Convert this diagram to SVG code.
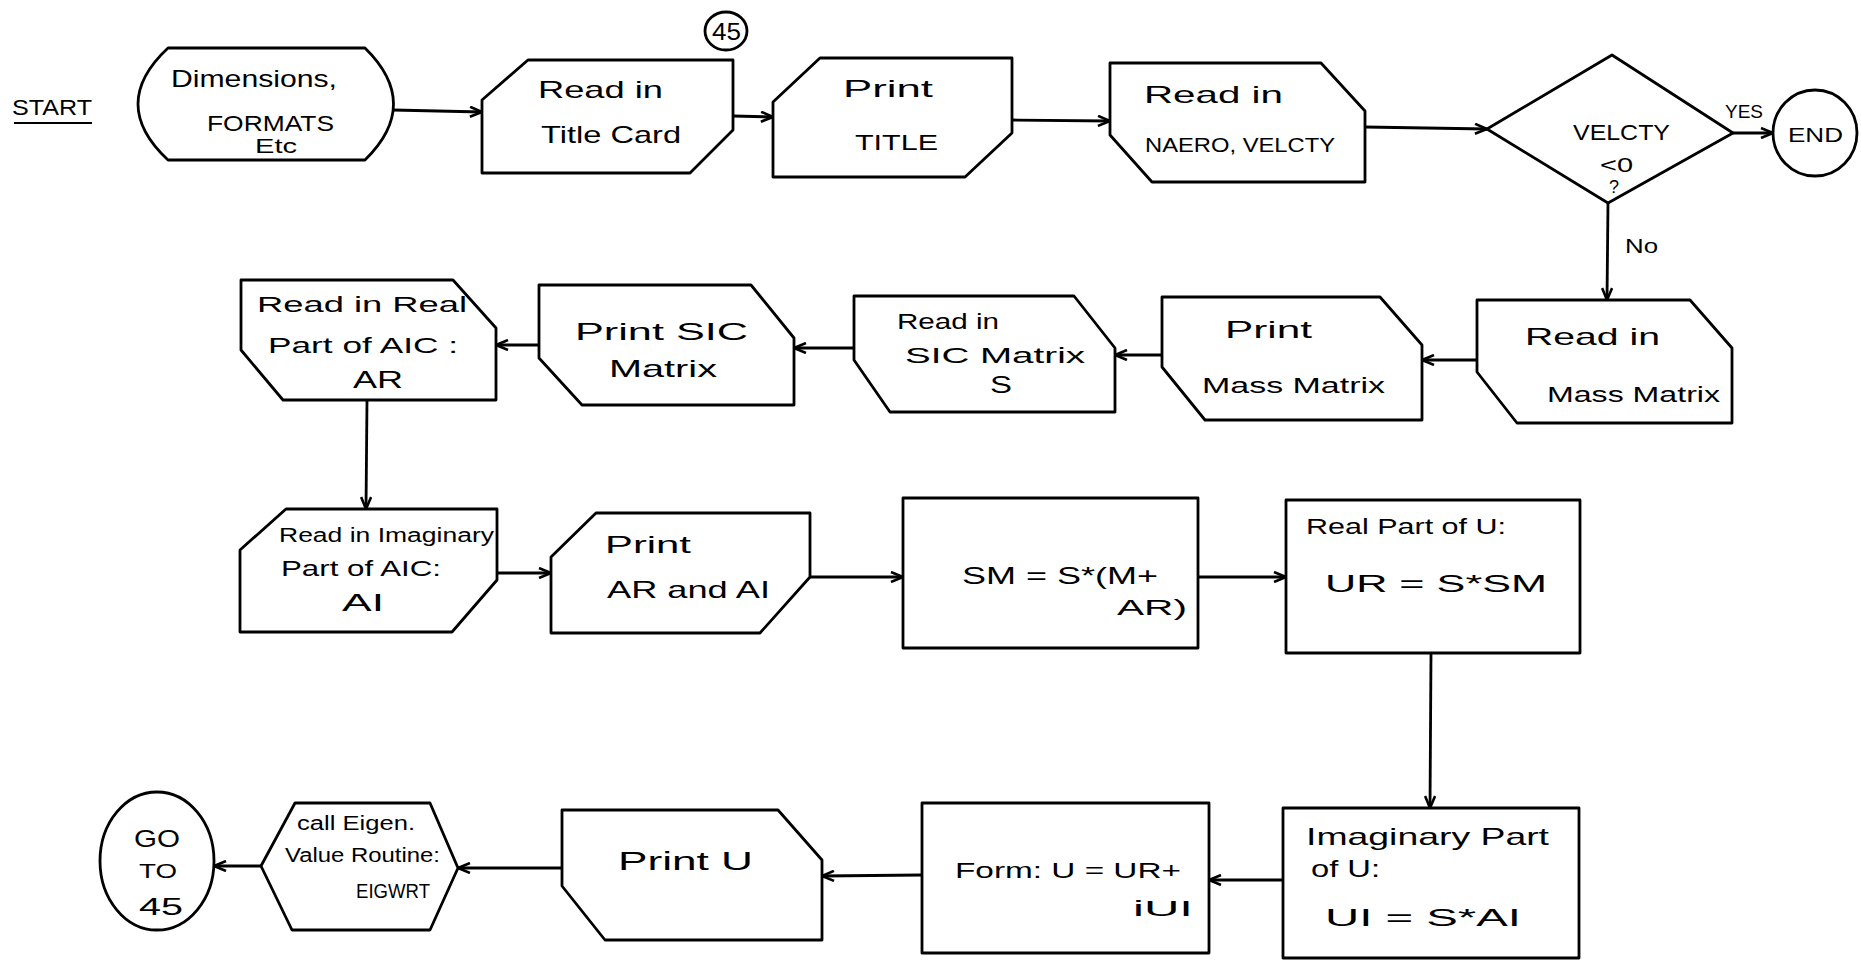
<svg xmlns="http://www.w3.org/2000/svg" width="1861" height="966" viewBox="0 0 1861 966">
<style>
.n{fill:none;stroke:#000;stroke-width:2.8;stroke-linejoin:round}
.c{fill:none;stroke:#000;stroke-width:2.8}
text{font-family:"Liberation Sans","DejaVu Sans",sans-serif;font-size:24px;fill:#000}
.s20{font-size:20px}
.s22{font-size:22px}
.s18{font-size:18px}
</style>
<defs>
<marker id="ah" viewBox="0 0 14 12" refX="13" refY="6" markerWidth="14" markerHeight="12" markerUnits="userSpaceOnUse" orient="auto">
<path d="M1,1 L13,6 L1,11" fill="none" stroke="#000" stroke-width="2.6" stroke-linejoin="miter"/>
</marker>
</defs>
<rect width="1861" height="966" fill="#fff"/>

<g id="start">
<text x="12" y="115" class="s22" textLength="80" lengthAdjust="spacingAndGlyphs">START</text>
<line x1="14" y1="123" x2="92" y2="123" stroke="#000" stroke-width="2"/>
</g>

<g id="label45">
<ellipse cx="726" cy="31" rx="21" ry="19" class="n"/>
<text x="712" y="40" textLength="29" lengthAdjust="spacingAndGlyphs">45</text>
</g>

<g id="dimensions">
<path class="n" d="M168,48 L365,48 Q422,104 365,160 L168,160 Q108,104 168,48 Z"/>
<text x="171" y="87" textLength="166" lengthAdjust="spacingAndGlyphs">Dimensions,</text>
<text x="207" y="131" class="s22" textLength="127" lengthAdjust="spacingAndGlyphs">FORMATS</text>
<text x="255" y="153" class="s20" textLength="42" lengthAdjust="spacingAndGlyphs">Etc</text>
</g>

<g id="titlecard">
<path class="n" d="M528,60 L733,60 L733,130 L690,173 L482,173 L482,100 Z"/>
<text x="538" y="98" textLength="125" lengthAdjust="spacingAndGlyphs">Read in</text>
<text x="541" y="143" textLength="140" lengthAdjust="spacingAndGlyphs">Title Card</text>
</g>

<g id="printtitle">
<path class="n" d="M820,58 L1012,58 L1012,133 L965,177 L773,177 L773,102 Z"/>
<text x="843" y="97" textLength="90" lengthAdjust="spacingAndGlyphs">Print</text>
<text x="855" y="150" class="s22" textLength="83" lengthAdjust="spacingAndGlyphs">TITLE</text>
</g>

<g id="naero">
<path class="n" d="M1110,63 L1321,63 L1365,111 L1365,182 L1152,182 L1110,135 Z"/>
<text x="1144" y="103" textLength="139" lengthAdjust="spacingAndGlyphs">Read in</text>
<text x="1145" y="152" class="s20" textLength="190" lengthAdjust="spacingAndGlyphs">NAERO, VELCTY</text>
</g>

<g id="decision">
<path class="n" d="M1487,129 L1612,55 L1733,133 L1608,203 Z"/>
<text x="1573" y="140" class="s22" textLength="97" lengthAdjust="spacingAndGlyphs">VELCTY</text>
<text x="1600" y="172" class="s20" textLength="33" lengthAdjust="spacingAndGlyphs">&lt;0</text>
<text x="1609" y="193" class="s18">?</text>
</g>

<g id="end">
<ellipse cx="1815" cy="133" rx="42" ry="43" class="n"/>
<text x="1788" y="142" class="s20" textLength="55" lengthAdjust="spacingAndGlyphs">END</text>
</g>

<g id="massread">
<path class="n" d="M1477,300 L1690,300 L1732,348 L1732,423 L1517,423 L1477,372 Z"/>
<text x="1525" y="345" textLength="135" lengthAdjust="spacingAndGlyphs">Read in</text>
<text x="1547" y="402" class="s22" textLength="173" lengthAdjust="spacingAndGlyphs">Mass Matrix</text>
</g>

<g id="massprint">
<path class="n" d="M1162,297 L1380,297 L1422,345 L1422,420 L1205,420 L1162,367 Z"/>
<text x="1225" y="338" textLength="87" lengthAdjust="spacingAndGlyphs">Print</text>
<text x="1202" y="393" class="s22" textLength="183" lengthAdjust="spacingAndGlyphs">Mass Matrix</text>
</g>

<g id="sicread">
<path class="n" d="M854,296 L1074,296 L1115,348 L1115,412 L890,412 L854,360 Z"/>
<text x="897" y="329" class="s22" textLength="102" lengthAdjust="spacingAndGlyphs">Read in</text>
<text x="905" y="363" class="s22" textLength="180" lengthAdjust="spacingAndGlyphs">SIC Matrix</text>
<text x="990" y="393" textLength="22" lengthAdjust="spacingAndGlyphs">S</text>
</g>

<g id="sicprint">
<path class="n" d="M539,285 L751,285 L794,338 L794,405 L582,405 L539,358 Z"/>
<text x="575" y="340" textLength="173" lengthAdjust="spacingAndGlyphs">Print SIC</text>
<text x="609" y="377" textLength="108" lengthAdjust="spacingAndGlyphs">Matrix</text>
</g>

<g id="realread">
<path class="n" d="M241,280 L453,280 L496,328 L496,400 L283,400 L241,350 Z"/>
<text x="257" y="312" class="s22" textLength="210" lengthAdjust="spacingAndGlyphs">Read in Real</text>
<text x="268" y="353" class="s22" textLength="190" lengthAdjust="spacingAndGlyphs">Part of AIC :</text>
<text x="353" y="388" textLength="50" lengthAdjust="spacingAndGlyphs">AR</text>
</g>

<g id="imagread">
<path class="n" d="M286,509 L497,509 L497,580 L452,632 L240,632 L240,550 Z"/>
<text x="279" y="542" class="s20" textLength="215" lengthAdjust="spacingAndGlyphs">Read in Imaginary</text>
<text x="281" y="576" class="s22" textLength="160" lengthAdjust="spacingAndGlyphs">Part of AIC:</text>
<text x="342" y="611" textLength="42" lengthAdjust="spacingAndGlyphs">AI</text>
</g>

<g id="printarai">
<path class="n" d="M596,513 L810,513 L810,577 L760,633 L551,633 L551,557 Z"/>
<text x="605" y="553" textLength="86" lengthAdjust="spacingAndGlyphs">Print</text>
<text x="607" y="598" textLength="163" lengthAdjust="spacingAndGlyphs">AR and AI</text>
</g>

<g id="sm">
<rect x="903" y="498" width="295" height="150" class="n"/>
<text x="962" y="584" textLength="196" lengthAdjust="spacingAndGlyphs">SM = S*(M+</text>
<text x="1117" y="615" class="s22" textLength="70" lengthAdjust="spacingAndGlyphs">AR)</text>
</g>

<g id="realu">
<rect x="1286" y="500" width="294" height="153" class="n"/>
<text x="1306" y="534" class="s22" textLength="200" lengthAdjust="spacingAndGlyphs">Real Part of U:</text>
<text x="1325" y="592" textLength="222" lengthAdjust="spacingAndGlyphs">UR = S*SM</text>
</g>

<g id="imagu">
<rect x="1283" y="808" width="296" height="150" class="n"/>
<text x="1306" y="845" textLength="243" lengthAdjust="spacingAndGlyphs">Imaginary Part</text>
<text x="1311" y="877" textLength="69" lengthAdjust="spacingAndGlyphs">of U:</text>
<text x="1325" y="926" textLength="196" lengthAdjust="spacingAndGlyphs">UI = S*AI</text>
</g>

<g id="formu">
<rect x="922" y="803" width="287" height="150" class="n"/>
<text x="955" y="878" class="s22" textLength="226" lengthAdjust="spacingAndGlyphs">Form: U = UR+</text>
<text x="1133" y="916" class="s22" textLength="60" lengthAdjust="spacingAndGlyphs">iUI</text>
</g>

<g id="printu">
<path class="n" d="M562,810 L778,810 L822,860 L822,940 L605,940 L562,886 Z"/>
<text x="618" y="870" style="font-size:26px" textLength="135" lengthAdjust="spacingAndGlyphs">Print U</text>
</g>

<g id="eigen">
<path class="n" d="M295,803 L430,803 L458,868 L430,930 L292,930 L261,866 Z"/>
<text x="297" y="830" class="s20" textLength="118" lengthAdjust="spacingAndGlyphs">call Eigen.</text>
<text x="285" y="862" class="s20" textLength="155" lengthAdjust="spacingAndGlyphs">Value Routine:</text>
<text x="356" y="898" class="s20" textLength="74" lengthAdjust="spacingAndGlyphs">EIGWRT</text>
</g>

<g id="goto45">
<ellipse cx="157" cy="861" rx="57" ry="69" class="n"/>
<text x="134" y="847" textLength="46" lengthAdjust="spacingAndGlyphs">GO</text>
<text x="139" y="878" class="s20" textLength="38" lengthAdjust="spacingAndGlyphs">TO</text>
<text x="139" y="915" textLength="44" lengthAdjust="spacingAndGlyphs">45</text>
</g>

<g id="connectors">
<path class="c" marker-end="url(#ah)" d="M393,110 L482,112"/>
<path class="c" marker-end="url(#ah)" d="M733,116 L773,117"/>
<path class="c" marker-end="url(#ah)" d="M1012,120 L1110,121"/>
<path class="c" marker-end="url(#ah)" d="M1365,127 L1487,129"/>
<path class="c" marker-end="url(#ah)" d="M1733,133 L1773,133"/>
<text x="1725" y="118" class="s18" textLength="38" lengthAdjust="spacingAndGlyphs">YES</text>
<path class="c" marker-end="url(#ah)" d="M1608,203 L1607,300"/>
<text x="1625" y="253" class="s20" textLength="33" lengthAdjust="spacingAndGlyphs">No</text>
<path class="c" marker-end="url(#ah)" d="M1477,360 L1422,360"/>
<path class="c" marker-end="url(#ah)" d="M1162,355 L1115,355"/>
<path class="c" marker-end="url(#ah)" d="M854,348 L794,348"/>
<path class="c" marker-end="url(#ah)" d="M539,345 L496,345"/>
<path class="c" marker-end="url(#ah)" d="M367,400 L366,509"/>
<path class="c" marker-end="url(#ah)" d="M497,573 L551,573"/>
<path class="c" marker-end="url(#ah)" d="M810,577 L903,577"/>
<path class="c" marker-end="url(#ah)" d="M1198,577 L1286,577"/>
<path class="c" marker-end="url(#ah)" d="M1431,653 L1430,808"/>
<path class="c" marker-end="url(#ah)" d="M1283,880 L1209,880"/>
<path class="c" marker-end="url(#ah)" d="M922,875 L822,876"/>
<path class="c" marker-end="url(#ah)" d="M562,868 L458,868"/>
<path class="c" marker-end="url(#ah)" d="M261,866 L214,866"/>
</g>
</svg>
